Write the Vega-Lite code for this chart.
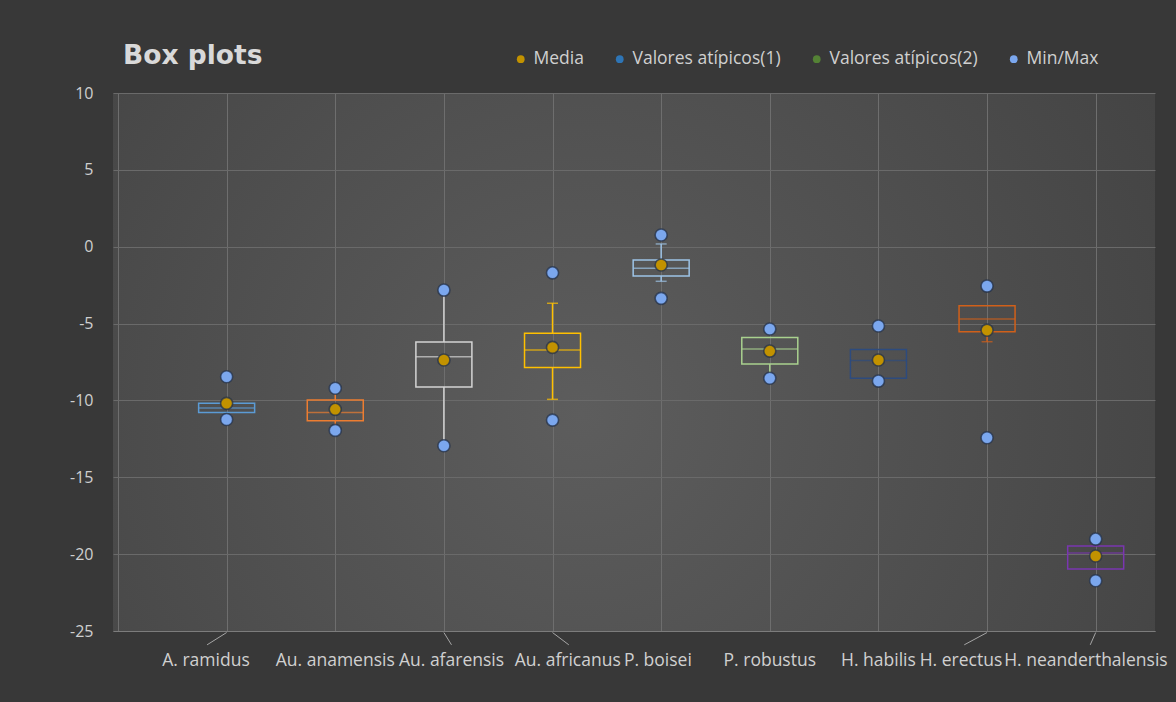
{
  "$schema": "https://vega.github.io/schema/vega-lite/v6.json",
  "width": 1042,
  "height": 538,
  "autosize": {"type": "none"},
  "padding": {"left": 113, "top": 93, "right": 21, "bottom": 71},
  "background": "#383838",
  "title": {
    "text": "Box plots",
    "anchor": "start",
    "frame": "group",
    "dx": 10,
    "dy": 67,
    "offset": 27,
    "baseline": "alphabetic",
    "font": "DejaVu Sans",
    "fontSize": 26.5,
    "fontWeight": "bold",
    "color": "#d9d9d9"
  },
  "config": {
    "view": {
      "stroke": null,
      "fill": {
        "gradient": "radial",
        "x1": 0.45, "y1": 0.55, "r1": 0,
        "x2": 0.45, "y2": 0.55, "r2": 0.75,
        "stops": [
          {"offset": 0, "color": "#5d5d5d"},
          {"offset": 1, "color": "#3f3f3f"}
        ]
      }
    },
    "axisX": {
      "tickCount": 10,
      "labels": false,
      "ticks": false,
      "domain": true,
      "domainColor": "#7c7c7c",
      "domainWidth": 1,
      "grid": true,
      "gridColor": "#6e6e6e",
      "gridWidth": 1
    },
    "axisY": {
      "tickCount": 7,
      "ticks": false,
      "domain": false,
      "grid": true,
      "gridColor": "#6a6a6a",
      "gridWidth": 1,
      "labelFont": "Open Sans",
      "labelFontSize": 16,
      "labelColor": "#cfcfcf",
      "labelPadding": 20,
      "labelExpr": "datum.value < 0 ? '-' + abs(datum.value) : '' + datum.value"
    },
    "legend": {
      "orient": "none",
      "legendX": 399,
      "legendY": -43,
      "direction": "horizontal",
      "padding": 0,
      "columnPadding": 27,
      "labelOffset": 4,
      "labelFont": "Open Sans",
      "labelFontSize": 17.5,
      "labelColor": "#d0d0d0",
      "symbolType": "circle",
      "symbolSize": 60,
      "symbolStrokeWidth": 0
    }
  },
  "datasets": {
    "boxes": [
      {"species": "A. ramidus", "pos": 1, "q1": -10.78, "median": -10.5, "q3": -10.19},
      {"species": "Au. anamensis", "pos": 2, "q1": -11.32, "median": -10.78, "q3": -9.97},
      {"species": "Au. afarensis", "pos": 3, "q1": -9.13, "median": -7.16, "q3": -6.2},
      {"species": "Au. africanus", "pos": 4, "q1": -7.85, "median": -6.72, "q3": -5.63},
      {"species": "P. boisei", "pos": 5, "q1": -1.91, "median": -1.4, "q3": -0.86},
      {"species": "P. robustus", "pos": 6, "q1": -7.63, "median": -6.66, "q3": -5.9},
      {"species": "H. habilis", "pos": 7, "q1": -8.56, "median": -7.4, "q3": -6.68},
      {"species": "H. erectus", "pos": 8, "q1": -5.53, "median": -4.7, "q3": -3.84},
      {"species": "H. neanderthalensis", "pos": 9, "q1": -20.97, "median": -19.93, "q3": -19.47}
    ],
    "whiskers": [
      {"species": "Au. anamensis", "pos": 2, "from": -9.97, "to": -9.3},
      {"species": "Au. anamensis", "pos": 2, "from": -11.32, "to": -11.9},
      {"species": "Au. afarensis", "pos": 3, "from": -6.2, "to": -2.82},
      {"species": "Au. afarensis", "pos": 3, "from": -9.13, "to": -12.95},
      {"species": "Au. africanus", "pos": 4, "from": -5.63, "to": -3.68},
      {"species": "Au. africanus", "pos": 4, "from": -7.85, "to": -9.93},
      {"species": "P. boisei", "pos": 5, "from": -0.86, "to": 0.18},
      {"species": "P. boisei", "pos": 5, "from": -1.91, "to": -2.25},
      {"species": "P. robustus", "pos": 6, "from": -7.63, "to": -8.56},
      {"species": "H. erectus", "pos": 8, "from": -5.53, "to": -6.18}
    ],
    "caps": [
      {"species": "Au. africanus", "pos": 4, "value": -3.68},
      {"species": "Au. africanus", "pos": 4, "value": -9.93},
      {"species": "P. boisei", "pos": 5, "value": 0.18},
      {"species": "P. boisei", "pos": 5, "value": -2.25},
      {"species": "H. erectus", "pos": 8, "value": -6.18}
    ],
    "points": [
      {"species": "A. ramidus", "pos": 1, "series": "Min/Max", "value": -8.46},
      {"species": "A. ramidus", "pos": 1, "series": "Min/Max", "value": -11.24},
      {"species": "Au. anamensis", "pos": 2, "series": "Min/Max", "value": -9.21},
      {"species": "Au. anamensis", "pos": 2, "series": "Min/Max", "value": -11.95},
      {"species": "Au. afarensis", "pos": 3, "series": "Min/Max", "value": -2.82},
      {"species": "Au. afarensis", "pos": 3, "series": "Min/Max", "value": -12.95},
      {"species": "Au. africanus", "pos": 4, "series": "Min/Max", "value": -1.7},
      {"species": "Au. africanus", "pos": 4, "series": "Min/Max", "value": -11.28},
      {"species": "P. boisei", "pos": 5, "series": "Min/Max", "value": 0.76},
      {"species": "P. boisei", "pos": 5, "series": "Min/Max", "value": -3.36},
      {"species": "P. robustus", "pos": 6, "series": "Min/Max", "value": -5.35},
      {"species": "P. robustus", "pos": 6, "series": "Min/Max", "value": -8.56},
      {"species": "H. habilis", "pos": 7, "series": "Min/Max", "value": -5.16},
      {"species": "H. habilis", "pos": 7, "series": "Min/Max", "value": -8.74},
      {"species": "H. erectus", "pos": 8, "series": "Min/Max", "value": -2.56},
      {"species": "H. erectus", "pos": 8, "series": "Min/Max", "value": -12.43},
      {"species": "H. neanderthalensis", "pos": 9, "series": "Min/Max", "value": -19.02},
      {"species": "H. neanderthalensis", "pos": 9, "series": "Min/Max", "value": -21.73},
      {"species": "A. ramidus", "pos": 1, "series": "Media", "value": -10.19},
      {"species": "Au. anamensis", "pos": 2, "series": "Media", "value": -10.58},
      {"species": "Au. afarensis", "pos": 3, "series": "Media", "value": -7.37},
      {"species": "Au. africanus", "pos": 4, "series": "Media", "value": -6.55},
      {"species": "P. boisei", "pos": 5, "series": "Media", "value": -1.19},
      {"species": "P. robustus", "pos": 6, "series": "Media", "value": -6.79},
      {"species": "H. habilis", "pos": 7, "series": "Media", "value": -7.37},
      {"species": "H. erectus", "pos": 8, "series": "Media", "value": -5.43},
      {"species": "H. neanderthalensis", "pos": 9, "series": "Media", "value": -20.12}
    ],
    "labels": [
      {"species": "A. ramidus", "pos": 1, "lx": 0.81},
      {"species": "Au. anamensis", "pos": 2, "lx": 2.0},
      {"species": "Au. afarensis", "pos": 3, "lx": 3.07},
      {"species": "Au. africanus", "pos": 4, "lx": 4.14},
      {"species": "P. boisei", "pos": 5, "lx": 4.97},
      {"species": "P. robustus", "pos": 6, "lx": 6.0},
      {"species": "H. habilis", "pos": 7, "lx": 7.0},
      {"species": "H. erectus", "pos": 8, "lx": 7.76},
      {"species": "H. neanderthalensis", "pos": 9, "lx": 8.91}
    ],
    "leaders": [
      {"species": "A. ramidus", "pos": 1, "lx": 0.82},
      {"species": "Au. afarensis", "pos": 3, "lx": 3.07},
      {"species": "Au. africanus", "pos": 4, "lx": 4.15},
      {"species": "H. erectus", "pos": 8, "lx": 7.79},
      {"species": "H. neanderthalensis", "pos": 9, "lx": 8.95}
    ]
  },
  "layer": [
    {
      "data": {"name": "boxes"},
      "mark": {"type": "bar", "width": 56, "fill": "transparent", "strokeWidth": 1.5},
      "encoding": {
        "x": {"field": "pos", "type": "quantitative", "title": null, "scale": {"domain": [0, 9.5], "nice": false, "zero": false}},
        "y": {"field": "q1", "type": "quantitative", "title": null, "scale": {"domain": [-25, 10], "nice": false, "zero": false}},
        "y2": {"field": "q3"},
        "stroke": {
          "field": "species", "type": "nominal", "legend": null,
          "scale": {
            "domain": ["A. ramidus", "Au. anamensis", "Au. afarensis", "Au. africanus", "P. boisei", "P. robustus", "H. habilis", "H. erectus", "H. neanderthalensis"],
            "range": ["#5b9bd5", "#ed7d31", "#d4d4d4", "#ffc000", "#9dc3e6", "#a9d18e", "#2d4b7e", "#d0601a", "#7a36b0"]
          }
        }
      }
    },
    {
      "data": {"name": "boxes"},
      "mark": {"type": "tick", "orient": "horizontal", "size": 56, "thickness": 1.5},
      "encoding": {
        "x": {"field": "pos", "type": "quantitative", "title": null, "scale": {"domain": [0, 9.5], "nice": false, "zero": false}},
        "y": {"field": "median", "type": "quantitative", "title": null, "scale": {"domain": [-25, 10], "nice": false, "zero": false}},
        "color": {
          "field": "species", "type": "nominal", "legend": null,
          "scale": {
            "domain": ["A. ramidus", "Au. anamensis", "Au. afarensis", "Au. africanus", "P. boisei", "P. robustus", "H. habilis", "H. erectus", "H. neanderthalensis"],
            "range": ["#5b9bd5", "#ed7d31", "#d4d4d4", "#ffc000", "#9dc3e6", "#a9d18e", "#2d4b7e", "#d0601a", "#7a36b0"]
          }
        }
      }
    },
    {
      "data": {"name": "whiskers"},
      "mark": {"type": "rule", "strokeWidth": 1.5},
      "encoding": {
        "x": {"field": "pos", "type": "quantitative", "title": null, "scale": {"domain": [0, 9.5], "nice": false, "zero": false}},
        "y": {"field": "from", "type": "quantitative", "title": null, "scale": {"domain": [-25, 10], "nice": false, "zero": false}},
        "y2": {"field": "to"},
        "stroke": {"field": "species", "type": "nominal", "legend": null}
      }
    },
    {
      "data": {"name": "caps"},
      "mark": {"type": "tick", "orient": "horizontal", "size": 11, "thickness": 1.5},
      "encoding": {
        "x": {"field": "pos", "type": "quantitative", "title": null, "scale": {"domain": [0, 9.5], "nice": false, "zero": false}},
        "y": {"field": "value", "type": "quantitative", "title": null, "scale": {"domain": [-25, 10], "nice": false, "zero": false}},
        "color": {"field": "species", "type": "nominal", "legend": null}
      }
    },
    {
      "mark": {"type": "rule", "stroke": "#a9a9a9", "strokeWidth": 1.2},
      "encoding": {
        "y": {"datum": 0, "type": "quantitative", "scale": {"domain": [-25, 10], "nice": false, "zero": false}}
      }
    },
    {
      "data": {"name": "points"},
      "mark": {"type": "point", "shape": "circle", "filled": true, "size": 145, "opacity": 1, "stroke": "#243149", "strokeWidth": 1.6, "strokeOpacity": 0.75},
      "encoding": {
        "x": {"field": "pos", "type": "quantitative", "title": null, "scale": {"domain": [0, 9.5], "nice": false, "zero": false}},
        "y": {"field": "value", "type": "quantitative", "title": null, "scale": {"domain": [-25, 10], "nice": false, "zero": false}},
        "fill": {
          "field": "series", "type": "nominal", "title": null,
          "scale": {
            "domain": ["Media", "Valores atípicos(1)", "Valores atípicos(2)", "Min/Max"],
            "range": ["#c29200", "#2e75b6", "#548235", "#7ba7ee"]
          }
        }
      }
    },
    {
      "data": {"name": "leaders"},
      "mark": {"type": "rule", "stroke": "#a6a6a6", "strokeWidth": 1},
      "encoding": {
        "x": {"field": "pos", "type": "quantitative", "title": null, "scale": {"domain": [0, 9.5], "nice": false, "zero": false}},
        "x2": {"field": "lx"},
        "y": {"datum": -25.1, "type": "quantitative", "scale": {"domain": [-25, 10], "nice": false, "zero": false}},
        "y2": {"datum": -25.9}
      }
    },
    {
      "data": {"name": "labels"},
      "mark": {"type": "text", "font": "Open Sans", "fontSize": 17.5, "color": "#d0d0d0", "baseline": "middle", "align": "center", "dy": 30},
      "encoding": {
        "x": {"field": "lx", "type": "quantitative", "title": null, "scale": {"domain": [0, 9.5], "nice": false, "zero": false}},
        "y": {"datum": -25, "type": "quantitative", "scale": {"domain": [-25, 10], "nice": false, "zero": false}},
        "text": {"field": "species"}
      }
    }
  ]
}
